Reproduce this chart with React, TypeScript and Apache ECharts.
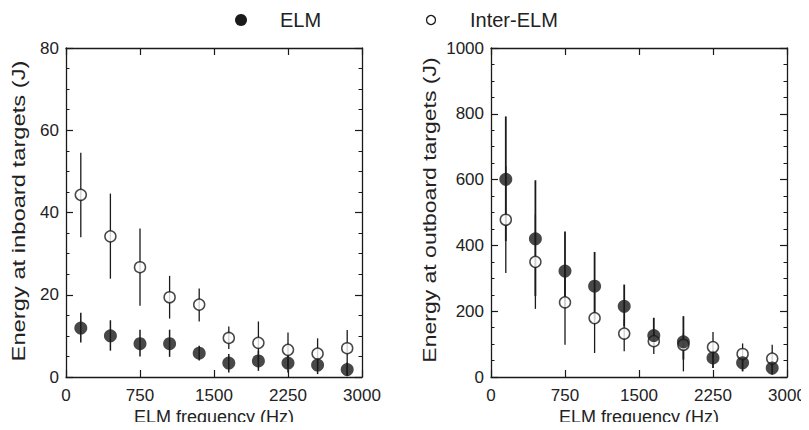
import React, { useEffect, useRef } from "react";
import * as echarts from "echarts";

const freqs = [150, 450, 750, 1050, 1350, 1650, 1950, 2250, 2550, 2850];

const inboardElm = [11.9, 10.0, 8.1, 8.1, 5.8, 3.4, 3.9, 3.4, 2.9, 1.8];
const inboardElmLow = [8.4, 6.4, 5.0, 4.9, 4.0, 1.1, 1.5, 1.1, 0.7, 0.2];
const inboardElmHigh = [15.6, 13.8, 11.5, 11.5, 7.6, 5.6, 6.4, 5.3, 4.8, 3.5];
const inboardInter = [44.3, 34.2, 26.7, 19.4, 17.6, 9.5, 8.3, 6.6, 5.7, 7.0];
const inboardInterLow = [34.0, 23.9, 17.3, 14.2, 13.5, 6.8, 4.0, 2.5, 2.0, 0.5];
const inboardInterHigh = [54.5, 44.6, 36.1, 24.6, 21.5, 12.3, 13.5, 10.8, 9.4, 11.4];

const outboardElm = [601, 420, 322, 276, 215, 126, 107, 58, 43, 27];
const outboardElmLow = [413, 246, 215, 175, 154, 93, 53, 27, 17, 7];
const outboardElmHigh = [792, 598, 442, 380, 281, 180, 185, 83, 63, 48];
const outboardInter = [478, 350, 227, 179, 132, 109, 98, 91, 70, 56];
const outboardInterLow = [316, 207, 98, 73, 78, 70, 17, 58, 48, 27];
const outboardInterHigh = [640, 494, 327, 256, 175, 134, 134, 137, 102, 98];

const INK = "#1a1a1a";
const FONT = "Liberation Sans, Arial, sans-serif";

function pts(ys: number[]) {
  return freqs.map((x, i) => [x, ys[i]]);
}
function bars(lo: number[], hi: number[]) {
  return freqs.map((x, i) => [x, lo[i], hi[i]]);
}

function errorSeries(data: number[][], axis: number, width: number) {
  return {
    type: "custom",
    xAxisIndex: axis * 2,
    yAxisIndex: axis * 2,
    data,
    encode: { x: 0, y: [1, 2] },
    z: 2,
    renderItem: (params: any, api: any) => {
      const x = api.value(0);
      const a = api.coord([x, api.value(1)]);
      const b = api.coord([x, api.value(2)]);
      return {
        type: "line",
        shape: { x1: a[0], y1: a[1], x2: b[0], y2: b[1] },
        style: { stroke: INK, lineWidth: width },
      };
    },
  };
}

const plain = (v: number) => String(v);

function xAxes(gridIndex: number) {
  const common = {
    type: "value",
    gridIndex,
    min: 0,
    max: 3000,
    interval: 750,
    splitLine: { show: false },
    axisLine: { show: true, onZero: false, lineStyle: { color: INK, width: 1.3 } },
    axisTick: { show: true, inside: true, length: 7, lineStyle: { color: INK, width: 1.2 } },
  };
  return [
    {
      ...common,
      position: "bottom",
      axisLabel: {
        show: true,
        margin: 10,
        fontSize: 17,
        lineHeight: 17,
        color: "#222",
        fontFamily: FONT,
        formatter: plain,
      },
    },
    { ...common, position: "top", axisLabel: { show: false } },
  ];
}

function yAxes(gridIndex: number, max: number, interval: number) {
  const common = {
    type: "value",
    gridIndex,
    min: 0,
    max,
    interval,
    splitLine: { show: false },
    axisLine: { show: true, onZero: false, lineStyle: { color: INK, width: 1.3 } },
    axisTick: { show: true, inside: true, length: 7, lineStyle: { color: INK, width: 1.2 } },
    minorTick: { show: true, splitNumber: 4, length: 3.5, lineStyle: { color: INK, width: 1 } },
    minorSplitLine: { show: false },
  };
  return [
    {
      ...common,
      position: "left",
      axisLabel: { show: true, margin: 7, fontSize: 17, color: "#222", fontFamily: FONT, formatter: plain },
    },
    { ...common, position: "right", axisLabel: { show: false } },
  ];
}

function yTitle(text: string, x: number, y: number, stretch: number) {
  return {
    type: "text",
    x,
    y,
    rotation: Math.PI / 2,
    scaleX: stretch,
    style: {
      text,
      fontSize: 19,
      fill: "#222",
      fontFamily: FONT,
      align: "center",
      verticalAlign: "middle",
    },
  };
}

function xTitle(x: number) {
  return {
    type: "text",
    x,
    y: 417,
    style: {
      text: "ELM frequency (Hz)",
      fontSize: 18,
      lineHeight: 18,
      fill: "#222",
      fontFamily: FONT,
      align: "center",
      verticalAlign: "middle",
    },
  };
}

export default function App() {
  const ref = useRef<HTMLDivElement>(null);
  useEffect(() => {
    if (!ref.current) return;
    const chart = echarts.init(ref.current, null, { renderer: "svg" });
    const option: any = {
      animation: false,
      backgroundColor: "#ffffff",
      textStyle: { fontFamily: FONT },
      grid: [
        { left: 66, top: 48, width: 296, height: 329, containLabel: false, outerBoundsMode: "none" },
        { left: 491, top: 48, width: 296, height: 329, containLabel: false, outerBoundsMode: "none" },
      ],
      xAxis: [...xAxes(0), ...xAxes(1)],
      yAxis: [...yAxes(0, 80, 20), ...yAxes(1, 1000, 200)],
      graphic: [
        { type: "circle", shape: { cx: 241, cy: 20, r: 6 }, style: { fill: INK } },
        {
          type: "text",
          x: 280,
          y: 20,
          style: { text: "ELM", fontSize: 20, fill: "#222", fontFamily: FONT, verticalAlign: "middle" },
        },
        {
          type: "circle",
          shape: { cx: 431, cy: 20, r: 4.5 },
          style: { fill: "#fff", stroke: INK, lineWidth: 1.3 },
        },
        {
          type: "text",
          x: 470,
          y: 20,
          style: { text: "Inter-ELM", fontSize: 20, fill: "#222", fontFamily: FONT, verticalAlign: "middle" },
        },
        yTitle("Energy at inboard targets (J)", 19, 211, 1.25),
        yTitle("Energy at outboard targets (J)", 429, 210, 1.21),
        xTitle(214),
        xTitle(639),
      ],
      series: [
        errorSeries(bars(inboardInterLow, inboardInterHigh), 0, 1.3),
        errorSeries(bars(inboardElmLow, inboardElmHigh), 0, 1.5),
        {
          name: "Inter-ELM",
          type: "scatter",
          xAxisIndex: 0,
          yAxisIndex: 0,
          data: pts(inboardInter),
          symbol: "circle",
          symbolSize: 11,
          z: 3,
          itemStyle: { color: "#fff", borderColor: INK, borderWidth: 1.5 },
        },
        {
          name: "ELM",
          type: "scatter",
          xAxisIndex: 0,
          yAxisIndex: 0,
          data: pts(inboardElm),
          symbol: "circle",
          symbolSize: 13,
          z: 4,
          itemStyle: { color: INK },
        },
        errorSeries(bars(outboardInterLow, outboardInterHigh), 1, 1.3),
        errorSeries(bars(outboardElmLow, outboardElmHigh), 1, 1.8),
        {
          name: "Inter-ELM",
          type: "scatter",
          xAxisIndex: 2,
          yAxisIndex: 2,
          data: pts(outboardInter),
          symbol: "circle",
          symbolSize: 11,
          z: 3,
          itemStyle: { color: "#fff", borderColor: INK, borderWidth: 1.5 },
        },
        {
          name: "ELM",
          type: "scatter",
          xAxisIndex: 2,
          yAxisIndex: 2,
          data: pts(outboardElm),
          symbol: "circle",
          symbolSize: 13,
          z: 4,
          itemStyle: { color: INK },
        },
      ],
    };
    chart.setOption(option);
    return () => chart.dispose();
  }, []);
  return <div ref={ref} style={{ width: 809, height: 430, margin: -8 }} />;
}
